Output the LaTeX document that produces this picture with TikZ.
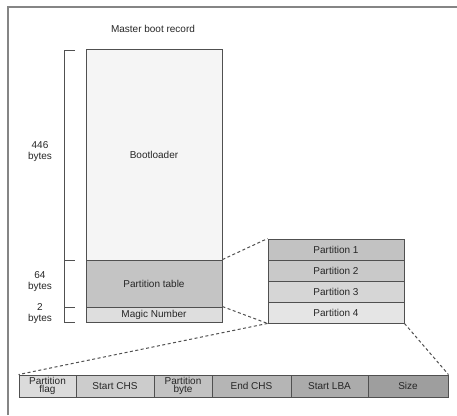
\documentclass[tikz,border=0pt]{standalone}
\usepackage{fontspec}
\setmainfont{Liberation Sans}
\usepackage{tikz}

\definecolor{edge}{HTML}{505050}
\definecolor{frame}{HTML}{858585}

\tikzset{
  cell/.style={draw=edge, line width=0.9pt, rectangle, inner sep=0pt, align=center,
    font=\fontsize{10}{8.5}\selectfont, text=black!85},
  zoomline/.style={draw=edge, dashed, line width=1pt, dash pattern=on 3pt off 2.5pt},
  bytelabel/.style={align=center, font=\fontsize{10}{11}\selectfont, text=black!85}
}

\begin{document}
\begin{tikzpicture}[x=1pt,y=-1pt]
      \useasboundingbox (0,0) rectangle (457,415);
      % frame
      \draw[frame, line width=1.6pt] (8,415) -- (8,7) -- (457,7);
      \node[bytelabel] (title) at (153,29) {Master boot record};

      % master boot record
      \node[cell, fill=black!4, minimum width=136pt, minimum height=211pt] (boot) at (154,154.5) {Bootloader};
      \node[cell, fill=black!23, minimum width=136pt, minimum height=47pt] (ptable) at (154,283.5) {Partition table};
      \node[cell, fill=black!13, minimum width=136pt, minimum height=15pt] (magic) at (154,314.5) {Magic Number};

      % sizes
      \draw[edge, line width=1pt] (75,50) -- (64,50) -- (64,322) -- (75,322);
      \draw[edge, line width=1pt] (64,260) -- (75,260);
      \draw[edge, line width=1pt] (64,307) -- (75,307);
      \node[bytelabel] (b446) at (40,152) {446\\bytes};
      \node[bytelabel] (b64) at (40,282) {64\\bytes};
      \node[bytelabel] (b2) at (40,314) {2\\bytes};

      % partition table entries
      \node[cell, fill=black!24, minimum width=136pt, minimum height=21pt] (p1) at (336,249.5) {Partition 1};
      \node[cell, fill=black!21, minimum width=136pt, minimum height=21pt] (p2) at (336,270.5) {Partition 2};
      \node[cell, fill=black!16, minimum width=136pt, minimum height=21pt] (p3) at (336,291.5) {Partition 3};
      \node[cell, fill=black!10, minimum width=136pt, minimum height=21pt] (p4) at (336,312.5) {Partition 4};

      % one entry
      \node[cell, fill=black!14, minimum width=57pt, minimum height=22pt] (flag) at (47.5,386) {Partition\\flag};
      \node[cell, fill=black!20, minimum width=78pt, minimum height=22pt] (chs1) at (115,386) {Start CHS};
      \node[cell, fill=black!24, minimum width=58pt, minimum height=22pt] (ptype) at (183,386) {Partition\\byte};
      \node[cell, fill=black!29, minimum width=79pt, minimum height=22pt] (chs2) at (251.5,386) {End CHS};
      \node[cell, fill=black!33, minimum width=77pt, minimum height=22pt] (lba) at (329.5,386) {Start LBA};
      \node[cell, fill=black!38, minimum width=80pt, minimum height=22pt] (size) at (408,386) {Size};

      \draw[zoomline] (ptable.north east) -- (p1.north west);
      \draw[zoomline] (magic.north east) -- (p4.south west);
      \draw[zoomline] (p4.south west) -- (flag.north west);
      \draw[zoomline] (p4.south east) -- (size.north east);
\end{tikzpicture}
\end{document}
